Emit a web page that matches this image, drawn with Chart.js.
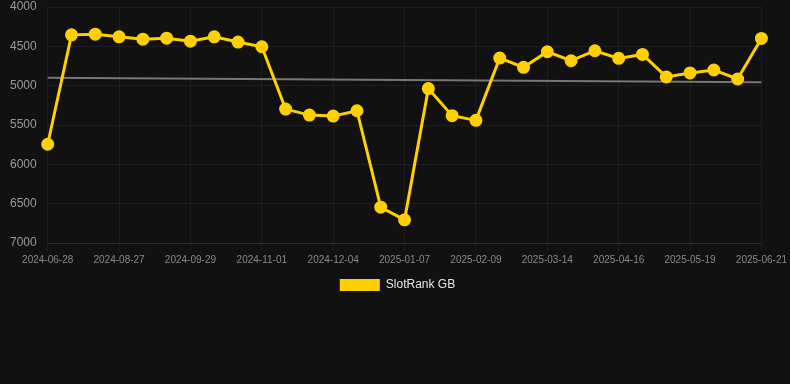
<!DOCTYPE html>
<html>
<head>
<meta charset="utf-8">
<script src="https://cdn.jsdelivr.net/npm/chart.js@4"></script>
<style>
  html, body { margin: 0; padding: 0; background: #111111; overflow: hidden; }
  #wrap { width: 790px; height: 303px; margin-top: -2px; }
</style>
</head>
<body>
<div id="wrap"><canvas id="rankChart"></canvas></div>
<script>
const dates = [
  '2024-06-28', '2024-08-05', '2024-08-16', '2024-08-27', '2024-09-07', '2024-09-18',
  '2024-09-29', '2024-10-10', '2024-10-21', '2024-11-01', '2024-11-12', '2024-11-23',
  '2024-12-04', '2024-12-15', '2024-12-26', '2025-01-07', '2025-01-18', '2025-01-29',
  '2025-02-09', '2025-02-20', '2025-03-03', '2025-03-14', '2025-03-25', '2025-04-05',
  '2025-04-16', '2025-04-27', '2025-05-08', '2025-05-19', '2025-05-30', '2025-06-10',
  '2025-06-21'
];

const rankGB = [
  5745, 4354, 4345, 4379, 4409, 4396, 4434, 4379, 4446, 4505,
  5298, 5374, 5387, 5319, 6545, 6706, 5037, 5382, 5441, 4649,
  4767, 4569, 4683, 4556, 4653, 4603, 4889, 4838, 4801, 4915,
  4400
];

// trend line, only the two end values
const trendStart = 4898;
const trendEnd = 4957;

const yTicks = [4000, 4500, 5000, 5500, 6000, 6500, 7000];

const trend = dates.map((d, i) => i === 0 ? trendStart : (i === dates.length - 1 ? trendEnd : null));

const ctx = document.getElementById('rankChart').getContext('2d');
new Chart(ctx, {
  type: 'line',
  data: {
    labels: dates,
    datasets: [
      {
        label: 'SlotRank GB',
        data: rankGB,
        borderColor: '#FFD000',
        backgroundColor: '#FFD000',
        borderWidth: 3,
        pointRadius: 5,
        pointHoverRadius: 6,
        tension: 0
      },
      {
        label: 'trend',
        data: trend,
        spanGaps: true,
        borderColor: '#777777',
        borderWidth: 2,
        pointRadius: 0,
        tension: 0
      }
    ]
  },
  options: {
    responsive: true,
    maintainAspectRatio: false,
    animation: false,
    layout: { autoPadding: false, padding: { left: 7, right: 2 } },
    plugins: {
      legend: {
        position: 'bottom',
        labels: {
          color: '#e6e6e6',
          font: { size: 12, family: 'Liberation Sans, Arial, sans-serif' },
          boxWidth: 40,
          boxHeight: 12,
          generateLabels: chart => Chart.defaults.plugins.legend.labels.generateLabels(chart)
            .filter(item => item.text !== 'trend')
            .map(item => Object.assign(item, { lineWidth: 0 }))
        }
      },
      tooltip: { enabled: false }
    },
    scales: {
      x: {
        grid: { color: 'rgba(255,255,255,0.05)', tickColor: 'rgba(255,255,255,0.05)' },
        border: { color: 'rgba(255,255,255,0.08)' },
        ticks: {
          color: '#888888',
          font: { size: 10, family: 'Liberation Sans, Arial, sans-serif' },
          maxRotation: 0,
          autoSkip: false,
          callback: function (val, i) { return i % 3 === 0 ? dates[i] : null; }
        }
      },
      y: {
        reverse: true,
        min: 4000,
        max: 7000,
        afterBuildTicks: axis => { axis.ticks = yTicks.map(v => ({ value: v })); },
        grid: { color: 'rgba(255,255,255,0.05)', tickColor: 'rgba(255,255,255,0.0)' },
        border: { display: false },
        ticks: {
          color: '#999999',
          font: { size: 12, lineHeight: 1, family: 'Liberation Sans, Arial, sans-serif' },
          callback: v => String(v)
        }
      }
    }
  }
});
</script>
</body>
</html>
